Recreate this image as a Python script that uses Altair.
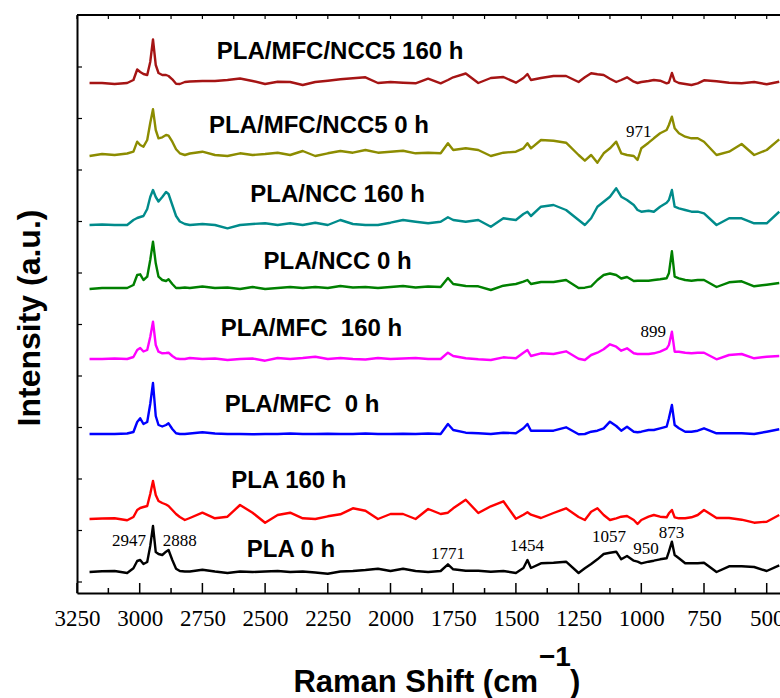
import altair as alt
import pandas as pd

# Raman shift grid (cm-1), shared by all spectra
WAVENUMBER = [3200, 3150, 3100, 3050,
              3025, 3010, 2998, 2985, 2970, 2958, 2947, 2936, 2925, 2910, 2895, 2885, 2870, 2855, 2840, 2820, 2800,
              2750, 2700, 2650, 2600, 2550, 2500, 2450, 2400, 2350, 2300, 2250, 2200, 2150, 2100, 2050, 2000, 1950, 1900, 1850, 1800,
              1771, 1750,
              1700, 1650, 1600, 1550, 1500,
              1470, 1454, 1440,
              1400, 1350, 1300, 1250,
              1225, 1200, 1175, 1150, 1125, 1100, 1080, 1057, 1030, 1015, 1000,
              971, 950, 925, 899, 890, 878, 867, 850,
              825, 800, 775, 750,
              700, 650, 600, 550, 500, 450]

SERIES = ["PLA/MFC/NCC5 160 h", "PLA/MFC/NCC5 0 h", "PLA/NCC 160 h", "PLA/NCC 0 h",
          "PLA/MFC\u00a0 160 h", "PLA/MFC\u00a0 0 h", "PLA 160 h", "PLA 0 h"]
COLORS = ["#A51414", "#8C8C00", "#008B8B", "#008000", "#FF00FF", "#0000FF", "#FF0000", "#000000"]
OFFSETS = [499, 428, 357, 294, 223, 148, 63, 10]

NCC5_160 = [0, 0, -1, 0,
            3, 13.5, 11, 9, 8, 21, 43.5, 18, 10, 8, 8, 7, 3.7, -0.7, -1, 1, 1.5,
            2, 2, 3, 4.5, 2, -1, 1.3, 1, -2, 1, 2.3, 3.7, 4.7, 5.7, 0, 1, 0.3, -0.3, 4.3, -0.3,
            3, 5.7,
            9.5, 0, 5, 6, 0.3,
            5, 9, 3,
            5, 7, 7, 1,
            5.7, 9.7, 8.7, 8, 4.3, 1, 3, 5.7, 1.3, 0, 1,
            2, 3, 2.3, -0.3, 0.5, 10, 2, 0,
            -1, -2, -0.3, 2.7,
            1.7, 0.3, -0.3, 1, -1.3, 1.3]
NCC5_0 = [-2, 0, -1, 0.5,
          2.3, 12.3, 9, 7.3, 14, 31, 44.7, 24, 15.7, 16.7, 19, 18.3, 12.3, 4.7, 0.7, -1, 0.5,
          2.3, -1, -2, 0.7, -1, 0, 1.3, -1, 3, -2, 0.7, 3, 1.3, 4, 1.3, 2.3, 3.3, 0.7, 1.3, 0.7,
          10.7, 4,
          5.7, 4, -2, 1.3, 2.3,
          5.7, 10.7, 5.7,
          14, 13.3, 11.3, -1,
          -6.7, -1, -8.7, 0.7, 5.7, 12.3, 0.7, -1, -2, -6, 5.7,
          11.3, 15.7, 20.7, 24, 29, 37.3, 25.7, 20.7,
          17.3, 15.7, 15.7, 12.3,
          -1, 2.3, 10, -1, 4, 14.7]
NCC_160 = [0, 0.5, 0, 0,
           5, 7, 8, 9, 16, 28, 35, 28, 23.5, 28, 33, 31, 20, 9, 3.5, 1, 0,
           1, 0, -3.3, 0, 1, 1.7, 0, 1.7, 0, 2.3, 0, 5, 1, 0, 0, 2.3, 5, 3.3, 1.7, 3.3,
           7.7, 5,
           3.3, 5, -1.7, 6.7, 5,
           11, 13.3, 9,
           18.3, 20, 15, 5,
           0, 6.7, 18.3, 23.3, 28.3, 36.7, 28.3, 25, 20, 15, 13.3,
           14.3, 13.3, 18.3, 22.3, 25, 35, 18.3, 16.7,
           15, 13.3, 13.3, 11.7,
           0, 6.7, 6.7, 1.7, 1.7, 13.3]
NCC_0 = [-1, 0, 0, 0,
         3, 13, 13.7, 8, 11.3, 28, 46.3, 24.7, 11.3, 8, 7, 8.7, 4, 0, 0, 0.5, 0,
         1.5, 0, 0.5, -1, 1, -1, 0, 1, 0, 1, 0, 2, 0.5, 1, 0, 1, 2, 0.5, 1.5, 1,
         10, 4,
         2, 1.7, -2, 2.3, 4,
         6.3, 8, 4,
         6, 6, 8, 0,
         0.3, 1.7, 8, 13, 14.5, 13, 9.5, 11, 7, 7.3, 7.3,
         7.3, 8, 8.7, 9.7, 14.7, 36.7, 11.3, 9.7,
         8, 7.3, 8, 8,
         1, 5.7, 6.7, 1.7, 3.3, 5]
MFC_160 = [0, 0, 0.5, 0,
           2, 9, 11, 7.5, 9, 22, 37.3, 14, 7.3, 5.7, 6, 6.3, 3, 0.5, 0, 0, 1,
           0, 0.5, -1, 0, 0.5, -1.7, 1, 0, 1, 2.3, 0, 1, 0, -0.5, 1, 0, 0.5, 1, 0, 0,
           6.3, 3,
           0.7, -0.3, -1, 1.7, 0.7,
           6.3, 9, 3,
           5.7, 5, 7.7, 0.3,
           -1, 4, 6.3, 9.7, 14.7, 12.3, 8.3, 10.7, 5.7, 5, 5,
           5, 5.7, 7.3, 10.3, 14, 27.3, 7.3, 7.3,
           6.3, 5.7, 6.3, 6.3,
           -0.3, 4, 5, 0.7, 2.3, 3]
MFC_0 = [0, 0, 0, 0.5,
         2, 12, 15.7, 10, 12, 30, 51, 18, 9, 7.5, 9, 10.7, 5, 0.7, 0, 0, 0.5,
         1.7, 0.5, 0, 0, -0.3, 0, 0, 0.5, 0, 0, 0.3, 0, 0, 0.5, 0, 0, 0.3, 0, 0.5, 0,
         10, 4,
         1.3, 0.7, 0, 1.3, 0.7,
         5.7, 10, 3.3,
         3.3, 3.3, 6.7, -0.3,
         0, 2.3, 3.3, 5.7, 12.3, 8, 3.3, 7.3, 2.3, 1.7, 2.3,
         4, 4, 5.7, 7.3, 15.7, 29, 9, 5.7,
         2.3, 2.3, 3.3, 5.7,
         0.7, 0.7, 0.7, 0, 2.3, 4.7]
PLA_160 = [0, 0.5, 0.7, -1.3,
           2, 9, 11, 12, 13, 25, 38, 24, 18, 16, 14.5, 13, 9, 5, 2, -1, 1,
           6.3, 0.7, 2.3, 14, 6.3, -3.7, 4, 6.3, 0.7, 0, 2.7, 4.7, 10.7, 8.3, 0, 5, 5, 0, 10, 5,
           6.3, 10.7,
           19.3, 6, 12.7, 17.7, 0.3,
           4.3, 6.7, 4.3,
           1, 6, 10.7, 2,
           -1, 7.3, 10.7, 4, -1, 0.7, 2.3, 3, -1, -5, -1,
           2.3, 4, 2.3, 1.7, 5.7, 9, 1.7, 0.7,
           0.7, 1.7, 4, 9,
           1, 1, -0.7, -3.7, -2.7, 4]
PLA_0 = [0, 0.7, 1, -1,
         3.7, 11, 12, 8, 10, 26, 46, 20, 18, 17, 20.3, 22, 12, 3.3, 1, 0.5, 0.5,
         2.3, 0.5, -1, 0.5, 0, 0.5, 1, 0, 0.5, -0.5, -1.7, 0.5, 1, 2, 3.3, 1, 3.3, 1, 0, 1,
         7.7, 2.7,
         1.3, 1.3, 0.3, 1, -1,
         4, 12, 4,
         8.7, 9.3, 10.3, -1,
         3.7, 8, 12.7, 18, 19.3, 20.3, 12.7, 16, 11.3, 10.3, 8.7,
         10.3, 11.3, 12.7, 13.7, 20.3, 30.3, 17, 13.7,
         8.7, 8.7, 8.7, 9.3,
         0, 5.7, 5.7, 5, 1, 6.7]
SPECTRA = [NCC5_160, NCC5_0, NCC_160, NCC_0, MFC_160, MFC_0, PLA_160, PLA_0]

# sample labels (text, wavenumber, intensity)
LABEL_TEXT = SERIES
LABEL_W = [2201, 2285, 2211, 2211, 2315, 2353, 2405, 2397]
LABEL_I = [530, 456, 387, 320, 253, 177, 101, 32]

# peak annotations
PEAK_TEXT = ["2947", "2888", "1771", "1454", "1057", "950", "873", "899", "971"]
PEAK_W = [3043, 2840, 1771, 1456, 1129, 981, 880, 952, 1010]
PEAK_I = [41, 41, 28, 36, 45.5, 33, 49.5, 250.5, 450.5]

X_MAJOR = [3250, 3000, 2750, 2500, 2250, 2000, 1750, 1500, 1250, 1000, 750, 500]
X_MINOR = [3125, 2875, 2625, 2375, 2125, 1875, 1625, 1375, 1125, 875, 625]
Y_TICKS = [0, 51.5, 103, 154.5, 206, 257.5, 309, 360.5, 412, 463.5, 515]

W, H = 703, 578

rows = []
for name, off, vals in zip(SERIES, OFFSETS, SPECTRA):
    for w, v in zip(WAVENUMBER, vals):
        rows.append({"series": name, "wavenumber": w, "intensity": off + v})
df = pd.DataFrame(rows)

XS = alt.Scale(domain=[447, 3250], reverse=True, nice=False, zero=False)
YS = alt.Scale(domain=[-11, 567], nice=False, zero=False)
XAX = alt.Axis(values=X_MAJOR, format="d", labelFont="Liberation Serif", labelFontSize=23,
               labelColor="black", ticks=False, tickSize=0, labelPadding=14,
               labelFlush=False, labelOverlap=False, domainColor="black",
               domainWidth=2, grid=False, title=None)
YAX = alt.Axis(labels=False, ticks=False, domainColor="black", domainWidth=2,
               grid=False, title=None)


def X(field):
    return alt.X(field, scale=XS, axis=XAX, title=None)


def Y(field):
    return alt.Y(field, scale=YS, axis=YAX, title=None)


lines = alt.Chart(df).mark_line(strokeWidth=2.4, strokeJoin="round").encode(
    x=X("wavenumber:Q"),
    y=Y("intensity:Q"),
    color=alt.Color("series:N", scale=alt.Scale(domain=SERIES, range=COLORS), legend=None),
    detail="series:N",
)

labels = alt.Chart(pd.DataFrame({"t": LABEL_TEXT, "w": LABEL_W, "i": LABEL_I})).mark_text(
    font="Liberation Sans", fontWeight="bold", fontSize=24, color="black",
    align="center", baseline="middle").encode(x=X("w:Q"), y=Y("i:Q"), text="t:N")

peaks = alt.Chart(pd.DataFrame({"t": PEAK_TEXT, "w": PEAK_W, "i": PEAK_I})).mark_text(
    font="Liberation Serif", fontSize=17, color="black", align="center", baseline="middle").encode(
    x=X("w:Q"), y=Y("i:Q"), text="t:N")

major = alt.Chart(pd.DataFrame({"w": X_MAJOR})).mark_rule(color="black", strokeWidth=1.5).encode(
    x=X("w:Q"), y=alt.value(H), y2=alt.value(H - 10))
minor = alt.Chart(pd.DataFrame({"w": X_MINOR})).mark_rule(color="black", strokeWidth=1.5).encode(
    x=X("w:Q"), y=alt.value(H), y2=alt.value(H - 5))
top_ticks = alt.Chart(pd.DataFrame({"w": X_MAJOR + X_MINOR})).mark_rule(color="black", strokeWidth=1.2).encode(
    x=X("w:Q"), y=alt.value(0), y2=alt.value(4))
left_ticks = alt.Chart(pd.DataFrame({"v": Y_TICKS})).mark_rule(color="black", strokeWidth=1.2).encode(
    y=Y("v:Q"), x=alt.value(0), x2=alt.value(5))

one = pd.DataFrame({"k": [0]})
top_border = alt.Chart(one).mark_rule(color="black", strokeWidth=2).encode(
    x=alt.value(0), x2=alt.value(W), y=alt.value(0))

ytitle = alt.Chart(one).mark_text(text="Intensity (a.u.)", font="Liberation Sans", fontWeight="bold",
                                  fontSize=32, angle=270, align="center", baseline="middle",
                                  color="black").encode(x=alt.value(-47), y=alt.value(303))
xt1 = alt.Chart(one).mark_text(text="Raman Shift (cm", font="Liberation Sans", fontWeight="bold",
                               fontSize=31, align="right", baseline="alphabetic",
                               color="black").encode(x=alt.value(461), y=alt.value(677))
xt2 = alt.Chart(one).mark_text(text="\u22121", font="Liberation Sans", fontWeight="bold",
                               fontSize=28, align="left", baseline="alphabetic",
                               color="black").encode(x=alt.value(462), y=alt.value(651))
xt3 = alt.Chart(one).mark_text(text=")", font="Liberation Sans", fontWeight="bold",
                               fontSize=31, align="left", baseline="alphabetic",
                               color="black").encode(x=alt.value(493), y=alt.value(677))

chart = alt.layer(lines, labels, peaks, major, minor, top_ticks, left_ticks, top_border,
                  ytitle, xt1, xt2, xt3).properties(
    width=W, height=H, autosize="none",
    padding={"left": 77, "top": 15, "right": 0, "bottom": 105},
).configure_view(stroke=None).configure(background="white")

chart.save("out.html", embed_options={"renderer": "svg", "actions": False})
